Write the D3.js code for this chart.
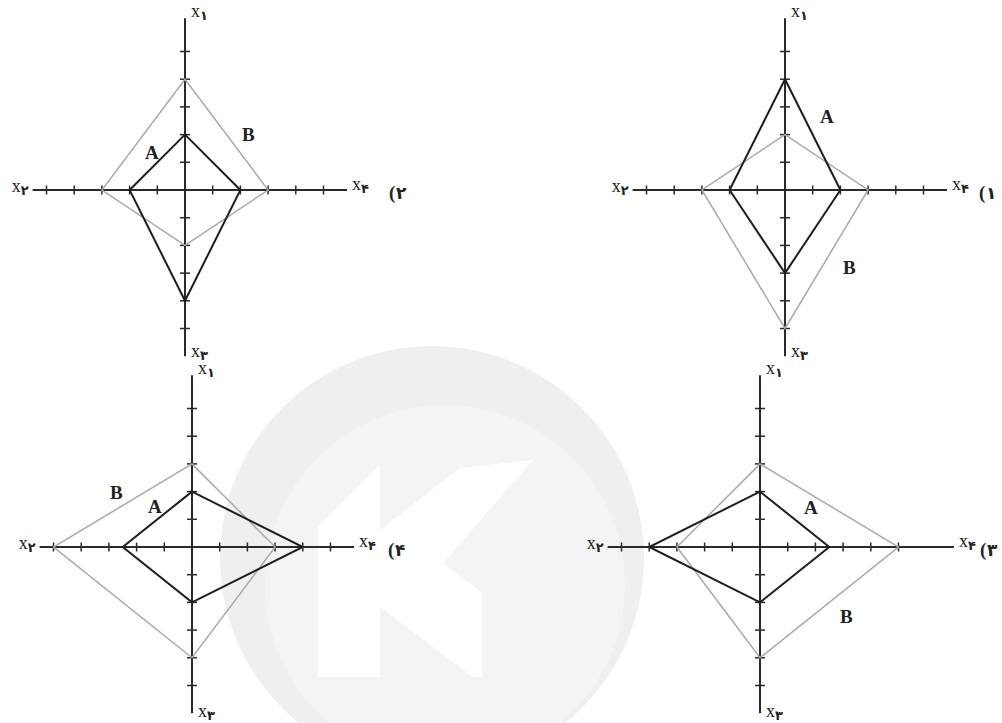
<!DOCTYPE html>
<html>
<head>
<meta charset="utf-8">
<script src="https://cdn.jsdelivr.net/npm/d3@7"></script>
<style>
body { margin: 0; background: #fff; }
text { font-family: "Liberation Serif", "DejaVu Serif", "DejaVu Sans", serif; }
</style>
</head>
<body>
<svg id="chart" width="1002" height="723"></svg>
<script>
// axis order in every chart: x1 (up), x2 (left), x3 (down), x4 (right)
var axisNames = ["۱", "۲", "۳", "۴"];
var chartNames = ["۱", "۲", "۳", "۴"];
var seriesA = [[4, 2, 3, 2], [2, 2, 4, 2], [2, 4, 2, 2.5], [2, 2.5, 2, 4]];
var seriesB = [[2, 3, 5, 3], [4, 3, 2, 3], [3, 3, 4, 5], [3, 5, 4, 3]];
var tickCounts = [5, 5, 5, 5];

// layout of the 4 small charts (centre, label spots for A, B and the chart number)
var layout = [
  {cx: 785, cy: 190, right: 5.85, num: 979, a: [820, 123], b: [843, 274]},
  {cx: 185, cy: 190, right: 5.85, num: 389, a: [145, 159], b: [242, 141]},
  {cx: 760, cy: 547, right: 7.0, num: 980, a: [804, 514], b: [840, 623]},
  {cx: 192, cy: 547, right: 5.85, num: 388, a: [148, 513], b: [110, 499]}
];
var unit = 27.7;

var svg = d3.select("#chart");

// faint watermark
var wm = svg.append("g");
wm.append("circle").attr("cx", 432).attr("cy", 558).attr("r", 212).attr("fill", "#efefef");
wm.append("circle").attr("cx", 445).attr("cy", 585).attr("r", 180).attr("fill", "#f4f4f4");
wm.append("polygon")
  .attr("points", "318,677 318,527 380,465 380,530 460,468 533,460 443,563 482,593 482,677 473,677 380,607 380,677")
  .attr("fill", "#ffffff");

var r = d3.scaleLinear().domain([0, 1]).range([0, unit]);

var drawChart = function(i)
{
    var L = layout[i];
    var g = svg.append("g").attr("transform", "translate(" + L.cx + "," + L.cy + ")");
    var top = -r(6.2), bottom = r(6.0), left = -r(5.5), right = r(L.right);

    // axes
    g.append("line").attr("x1", left).attr("x2", right).attr("y1", 0).attr("y2", 0)
      .attr("stroke", "#2a2a2a").attr("stroke-width", 2);
    g.append("line").attr("x1", 0).attr("x2", 0).attr("y1", top).attr("y2", bottom)
      .attr("stroke", "#2a2a2a").attr("stroke-width", 2);

    var ticks = d3.range(1, tickCounts[i] + 1);
    ticks.forEach(function(t)
    {
        [-1, 1].forEach(function(s)
        {
            g.append("line").attr("x1", s * r(t)).attr("x2", s * r(t)).attr("y1", -4.5).attr("y2", 4.5)
              .attr("stroke", "#2a2a2a").attr("stroke-width", 1.5);
            g.append("line").attr("y1", s * r(t)).attr("y2", s * r(t)).attr("x1", -5).attr("x2", 5)
              .attr("stroke", "#2a2a2a").attr("stroke-width", 1.5);
        });
    });

    var toPoints = function(vals)
    {
        return [[0, -r(vals[0])], [-r(vals[1]), 0], [0, r(vals[2])], [r(vals[3]), 0]];
    };
    var line = d3.line().curve(d3.curveLinearClosed);

    g.append("path").attr("d", line(toPoints(seriesB[i])))
      .attr("fill", "none").attr("stroke", "#a9a9a9").attr("stroke-width", 1.5);
    g.append("path").attr("d", line(toPoints(seriesA[i])))
      .attr("fill", "none").attr("stroke", "#1e1e1e").attr("stroke-width", 2);

    // axis labels
    var axisLabel = function(x, y, k, anchor)
    {
        var t = g.append("text").attr("x", x).attr("y", y).attr("text-anchor", anchor)
          .attr("font-size", 18).attr("fill", "#222");
        t.append("tspan").text("x");
        t.append("tspan").attr("dy", 3).attr("font-size", 13).attr("font-weight", "bold").text(axisNames[k]);
    };
    axisLabel(6, top - 1, 0, "start");
    axisLabel(left - 4, 2, 1, "end");
    axisLabel(6, bottom + (i < 2 ? 1 : 4), 2, "start");
    axisLabel(right + 5, 0, 3, "start");

    // chart number: paren and digit drawn apart so bidi does not flip them
    svg.append("text").attr("x", L.num).attr("y", L.cy + 9)
      .attr("font-size", 19).attr("font-weight", "bold").attr("fill", "#222").text("(");
    svg.append("text").attr("x", L.num + 7).attr("y", L.cy + 9)
      .attr("font-size", 17).attr("font-weight", "bold").attr("fill", "#222")
      .attr("font-family", "DejaVu Sans").text(chartNames[i]);

    svg.append("text").attr("x", L.a[0]).attr("y", L.a[1]).attr("font-size", 19)
      .attr("font-weight", "bold").attr("fill", "#222").text("A");
    svg.append("text").attr("x", L.b[0]).attr("y", L.b[1]).attr("font-size", 19)
      .attr("font-weight", "bold").attr("fill", "#222").text("B");
};

d3.range(4).forEach(drawChart);
</script>
</body>
</html>
